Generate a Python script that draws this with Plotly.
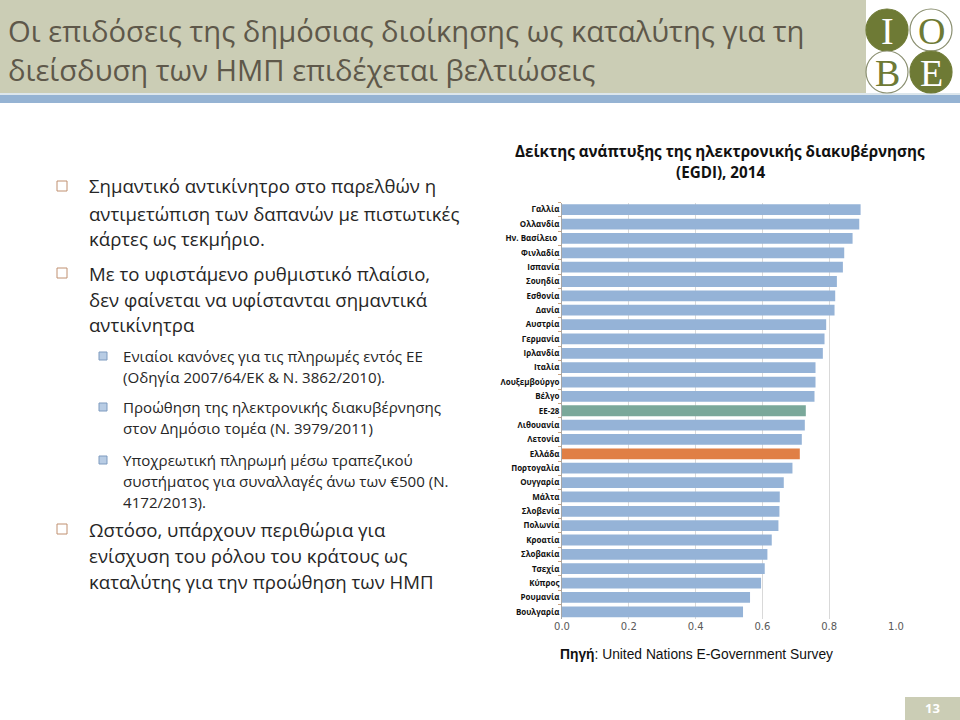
import plotly.graph_objects as go

countries = ["Γαλλία", "Ολλανδία", "Ην. Βασίλειο ", "Φινλαδία", "Ισπανία", "Σουηδία",
             "Εσθονία", "Δανία", "Αυστρία", "Γερμανία", "Ιρλανδία", "Ιταλία",
             "Λουξεμβούργο", "Βέλγο", "ΕΕ-28", "Λιθουανία", "Λετονία", "Ελλάδα",
             "Πορτογαλία", "Ουγγαρία", "Μάλτα", "Σλοβενία", "Πολωνία", "Κροατία",
             "Σλοβακία", "Τσεχία", "Κύπρος", "Ρουμανία", "Βουλγαρία"]
egdi = [0.894, 0.890, 0.870, 0.845, 0.841, 0.823, 0.818, 0.816, 0.791, 0.786,
        0.781, 0.759, 0.759, 0.756, 0.730, 0.727, 0.718, 0.712, 0.690, 0.664,
        0.652, 0.651, 0.648, 0.628, 0.615, 0.607, 0.596, 0.563, 0.542]
x_ticks = [0.0, 0.2, 0.4, 0.6, 0.8, 1.0]

BLUE = "#95B3D7"
GREEN = "#7AA89A"
ORANGE = "#E07F45"
colors = [GREEN if c == "ΕΕ-28" else ORANGE if c == "Ελλάδα" else BLUE for c in countries]

W, H = 960, 720
def px(x):
    return x / W
def py(y):
    return 1 - y / H

fig = go.Figure()
fig.add_trace(go.Bar(
    x=egdi, y=countries, orientation="h",
    marker=dict(color=colors, line=dict(width=0)),
    hoverinfo="x+y",
))

shapes = []
# header band
shapes.append(dict(type="rect", xref="paper", yref="paper", x0=0, x1=px(866), y0=py(93), y1=1,
                   fillcolor="#CBCDB5", line=dict(width=0), layer="below"))
# blue band
shapes.append(dict(type="rect", xref="paper", yref="paper", x0=0, x1=1, y0=py(103), y1=py(95),
                   fillcolor="#95B3D3", line=dict(width=0), layer="below"))
shapes.append(dict(type="rect", xref="paper", yref="paper", x0=0, x1=1, y0=py(95), y1=py(93),
                   fillcolor="#DCE6EC", line=dict(width=0), layer="below"))
# page number box
shapes.append(dict(type="rect", xref="paper", yref="paper", x0=px(905), x1=1, y0=0, y1=py(697),
                   fillcolor="#CBCDB5", line=dict(width=0), layer="below"))

# logo circles
OLIVE = "#6E7A35"
logo = [("I", 887, 30, True), ("O", 931, 30, False), ("B", 887, 72, False), ("E", 931, 72, True)]
R = 21
annotations = []
for letter, cx, cy, filled in logo:
    shapes.append(dict(type="circle", xref="paper", yref="paper",
                       x0=px(cx - R), x1=px(cx + R), y0=py(cy + R), y1=py(cy - R),
                       fillcolor=OLIVE if filled else "white",
                       line=dict(color=OLIVE if filled else "#8A8F70", width=1.2)))
    annotations.append(dict(text=letter, x=px(cx), y=py(cy + 1), xref="paper", yref="paper",
                            showarrow=False, xanchor="center", yanchor="middle",
                            font=dict(family="Liberation Serif", size=38,
                                      color="white" if filled else OLIVE)))

# bullets
def main_bullet(y):
    shapes.append(dict(type="rect", xref="paper", yref="paper",
                       x0=px(57), x1=px(67), y0=py(y + 5), y1=py(y - 5),
                       fillcolor="white", line=dict(color="#C09070", width=1)))
def sub_bullet(y):
    shapes.append(dict(type="rect", xref="paper", yref="paper",
                       x0=px(99), x1=px(107), y0=py(y + 4), y1=py(y - 4),
                       fillcolor="#B8CCE4", line=dict(color="#7F9BBF", width=1)))

def text(t, x, y, size, color="#262626", family="Open Sans", anchor="left", bold=False):
    if bold:
        t = "<b>" + t + "</b>"
    annotations.append(dict(text=t, x=px(x), y=py(y), xref="paper", yref="paper",
                            showarrow=False, xanchor=anchor, yanchor="middle",
                            font=dict(family=family, size=size, color=color)))

# slide title
text("Οι επιδόσεις της δημόσιας διοίκησης ως καταλύτης για τη", 6, 31, 29.2, color="#5E584A")
text("διείσδυση των ΗΜΠ επιδέχεται βελτιώσεις", 6, 70, 29.2, color="#5E584A")

main_lines = [
    (186, "Σημαντικό αντικίνητρο στο παρελθών η", True),
    (213, "αντιμετώπιση των δαπανών με πιστωτικές", False),
    (239, "κάρτες ως τεκμήριο.", False),
    (273, "Με το υφιστάμενο ρυθμιστικό πλαίσιο,", True),
    (299, "δεν φαίνεται να υφίστανται σημαντικά", False),
    (325, "αντικίνητρα", False),
    (529, "Ωστόσο, υπάρχουν περιθώρια για", True),
    (555, "ενίσχυση του ρόλου του κράτους ως", False),
    (581, "καταλύτης για την προώθηση των ΗΜΠ", False),
]
for y, t, b in main_lines:
    if b:
        main_bullet(y)
    text(t, 87, y, 18.6)

sub_lines = [
    (356, "Ενιαίοι κανόνες για τις πληρωμές εντός ΕΕ", True),
    (377, "(Οδηγία 2007/64/ΕΚ & Ν. 3862/2010).", False),
    (407, "Προώθηση της ηλεκτρονικής διακυβέρνησης", True),
    (428, "στον Δημόσιο τομέα (Ν. 3979/2011)", False),
    (460, "Υποχρεωτική πληρωμή μέσω τραπεζικού", True),
    (481, "συστήματος για συναλλαγές άνω των €500 (Ν.", False),
    (502, "4172/2013).", False),
]
for y, t, b in sub_lines:
    if b:
        sub_bullet(y)
    text(t, 121, y, 15.1)

# chart title
text("Δείκτης ανάπτυξης της ηλεκτρονικής διακυβέρνησης", 720, 151, 15.2, color="#111111",
     anchor="center", bold=True)
text("(EGDI), 2014", 720, 172, 15.2, color="#111111", anchor="center", bold=True)

# source
annotations.append(dict(text="<b>Πηγή</b>: United Nations E-Government Survey", x=px(696), y=py(654),
                        xref="paper", yref="paper", showarrow=False, xanchor="center", yanchor="middle",
                        font=dict(family="Liberation Sans", size=13.8, color="#111111")))
# page number
annotations.append(dict(text="<b>13</b>", x=px(932), y=py(708), xref="paper", yref="paper",
                        showarrow=False, xanchor="center", yanchor="middle",
                        font=dict(family="Open Sans", size=13, color="white")))

fig.update_layout(
    width=W, height=H,
    margin=dict(l=0, r=0, t=0, b=0, autoexpand=False),
    paper_bgcolor="white", plot_bgcolor="white",
    showlegend=False,
    bargap=0.25,
    shapes=shapes,
    annotations=annotations,
    xaxis=dict(domain=[px(562), px(896)], range=[0, 1.0], tickvals=x_ticks,
               ticktext=[f"{v:.1f}" for v in x_ticks], automargin=False,
               showgrid=True, gridcolor="#D9D9D9", gridwidth=1, zeroline=False,
               showline=False, ticks="", tickfont=dict(family="DejaVu Sans", size=10, color="#595959"),
               anchor="y"),
    yaxis=dict(domain=[py(619), py(202.5)], autorange="reversed", type="category",
               showline=True, linecolor="#A6A6A6", linewidth=1, automargin=False,
               ticks="outside", ticklen=3, tickcolor="#C9A27E", tickson="boundaries",
               tickfont=dict(family="Open Sans", size=8, color="#111111"),
               showgrid=False, zeroline=False),
)
fig.update_yaxes(tickprefix="<b>", ticksuffix="</b>")

fig.write_html("out.html", config={"displayModeBar": False},
               post_script="document.body.style.margin='0';document.body.style.overflow='hidden';")
